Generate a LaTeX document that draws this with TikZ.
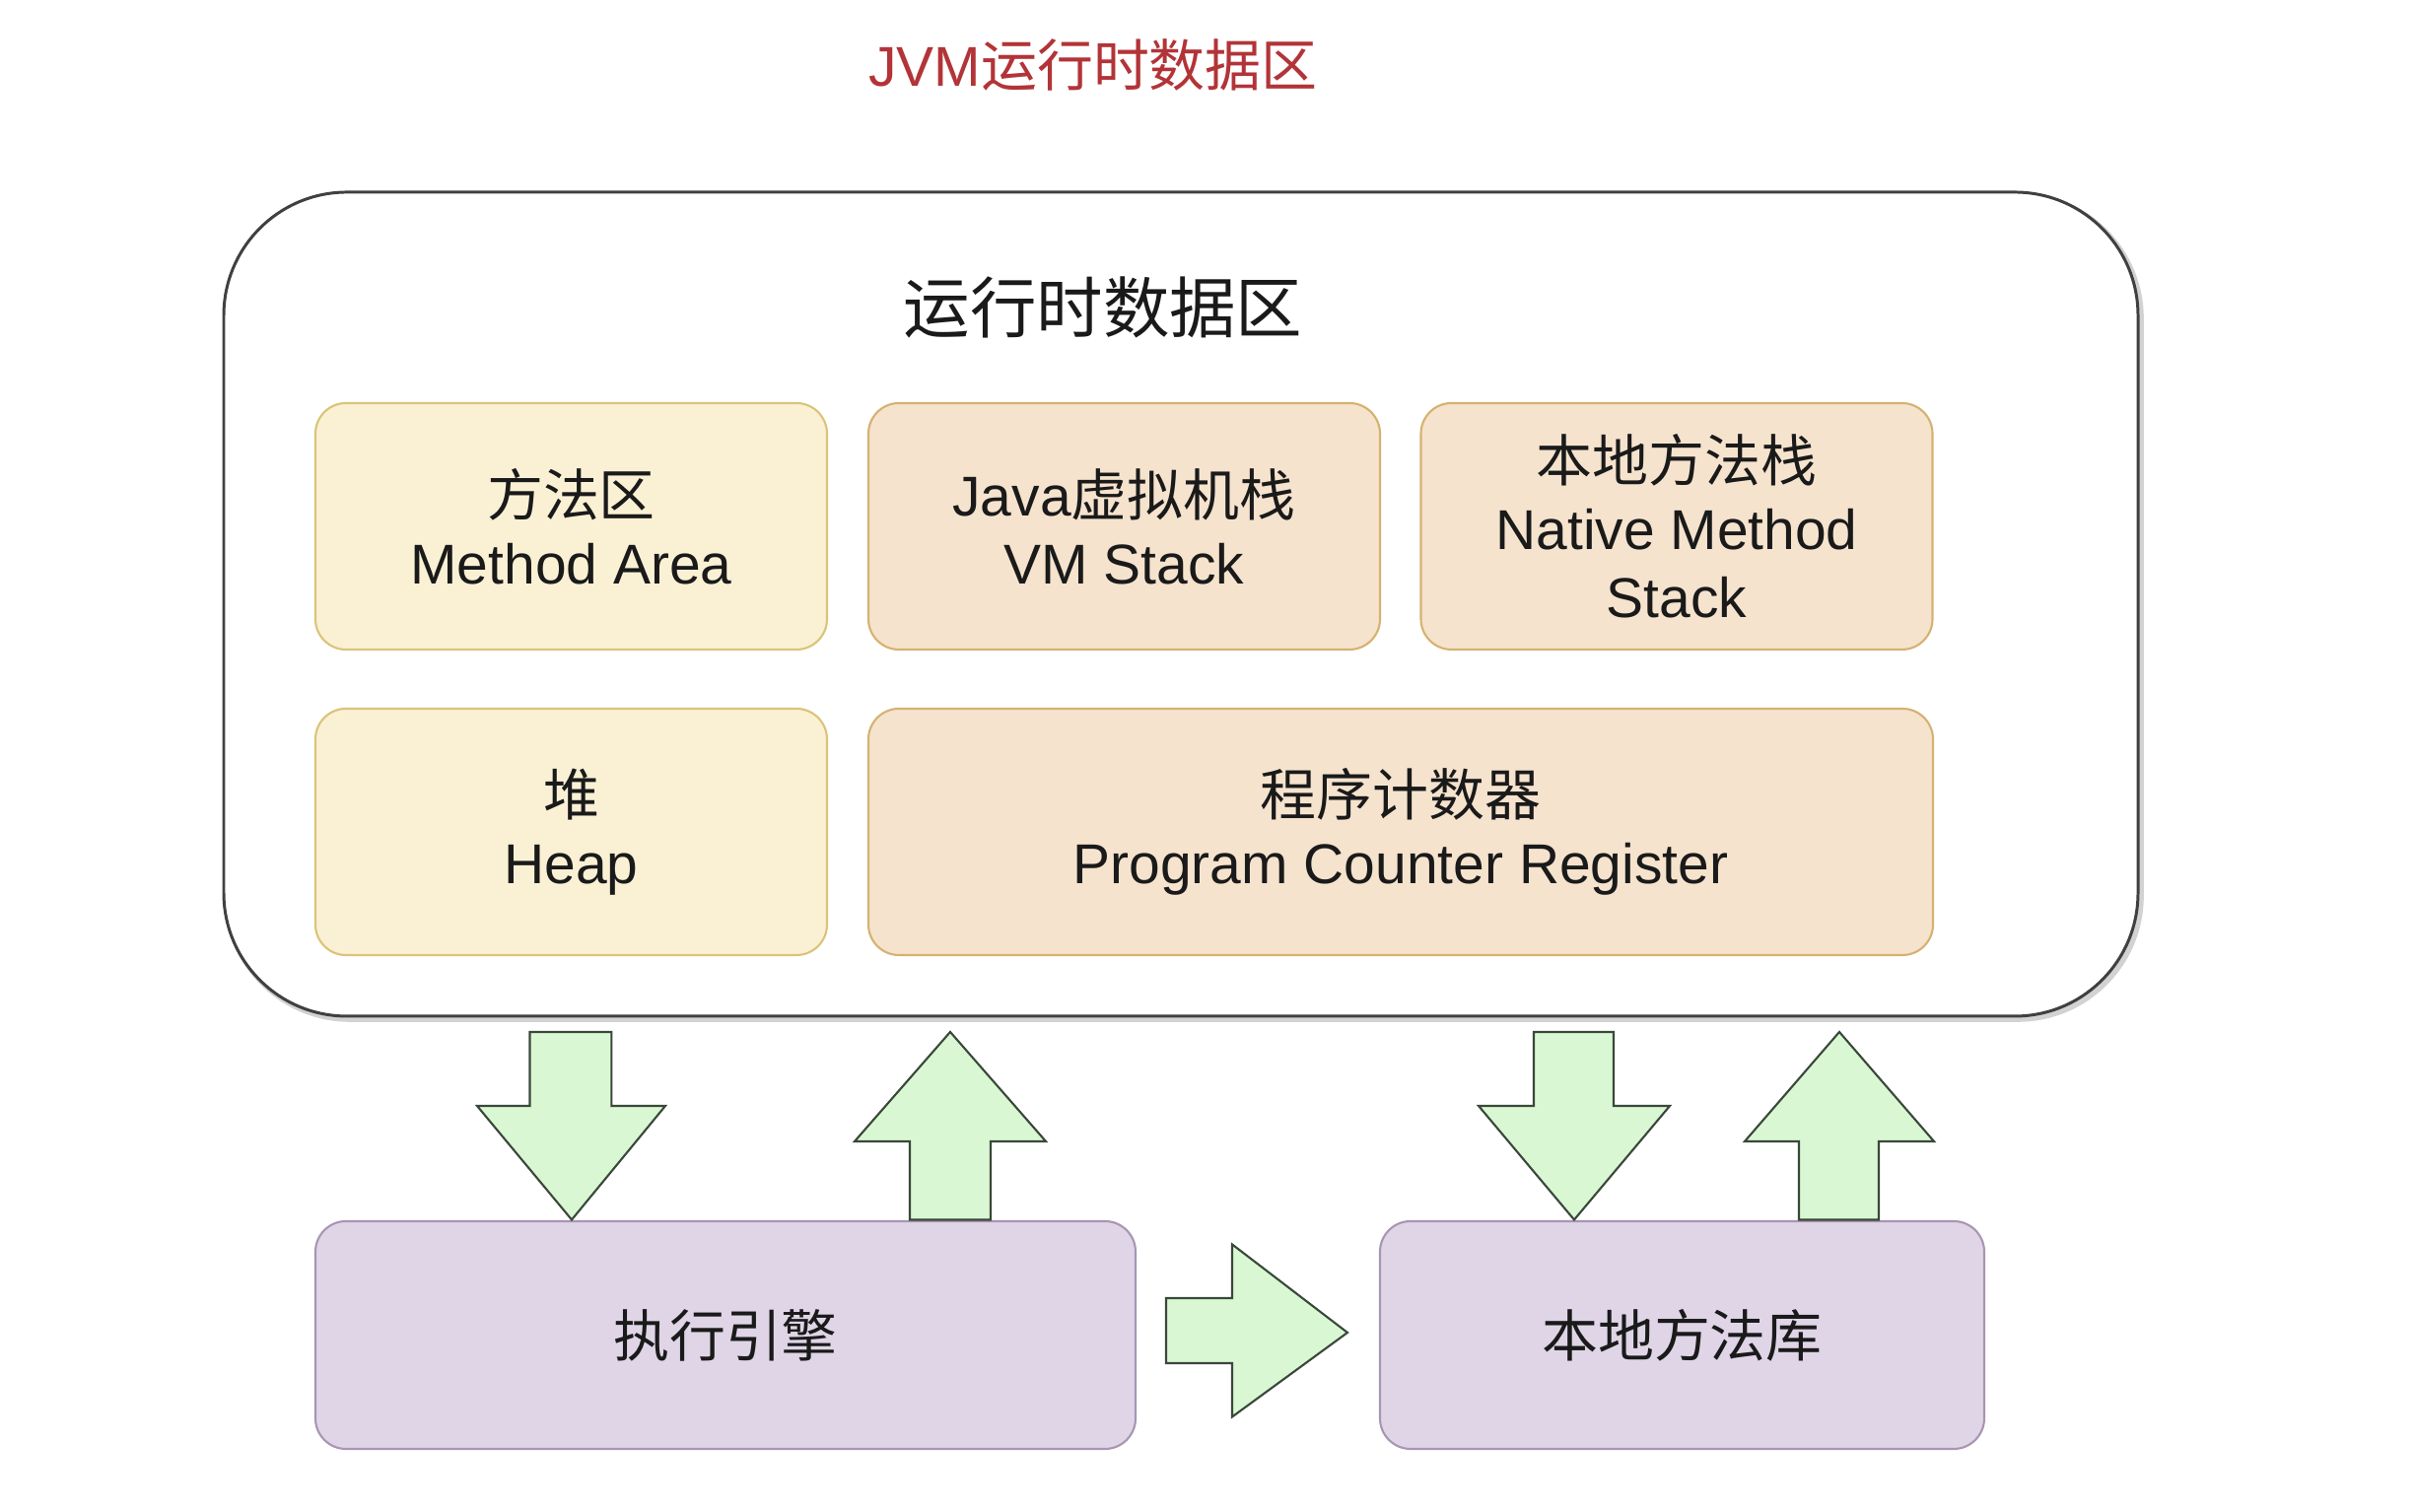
\documentclass[tikz,border=0pt]{standalone}
\usepackage{fontspec}
\setmainfont{Liberation Sans}
\newfontfamily\cjk{Noto Sans CJK SC}
\usepackage{tikz}
\usetikzlibrary{positioning}
\definecolor{titlered}{RGB}{178,52,56}
\definecolor{txt}{RGB}{26,26,26}
\definecolor{yfill}{RGB}{250,241,213}
\definecolor{ydraw}{RGB}{218,196,120}
\definecolor{ofill}{RGB}{245,227,206}
\definecolor{odraw}{RGB}{214,178,112}
\definecolor{pfill}{RGB}{223,213,231}
\definecolor{pdraw}{RGB}{168,150,178}
\definecolor{gfill}{RGB}{217,247,211}
\definecolor{gdraw}{RGB}{58,72,58}

\begin{document}
\begin{tikzpicture}[join=miter,
    every node/.style={text=txt,font=\fontsize{16.2}{19.6}\selectfont,align=center},
    area/.style={rounded corners=0.31cm,line width=0.6pt,minimum height=2.5cm,minimum width=5.19cm},
    yellowbox/.style={area,fill=yfill,draw=ydraw},
    orangebox/.style={area,fill=ofill,draw=odraw},
    purplebox/.style={area,fill=pfill,draw=pdraw,minimum height=2.31cm},
    bigarrow/.style={fill=gfill,draw=gdraw,line width=0.6pt}]
         \useasboundingbox (0,0) rectangle (24.5,15.34);
         \node[text=titlered] (title) at (11.09,14.68) {JVM{\cjk 运行时数据区}};
         % runtime data area with its shadow
         \draw[gray!35,line width=1.6pt,rounded corners=1.25cm] (2.30,13.36) rectangle (21.72,5.00);
         \draw[fill=white,draw=black!75,line width=0.85pt,rounded corners=1.25cm] (2.27,13.39) rectangle (21.69,5.03);
         \node[font=\fontsize{19.2}{23}\selectfont\cjk] (rda) at (11.19,12.22) {运行时数据区};
         \node[yellowbox] (method) at (5.795,10.0) {{\cjk 方法区}\\Method Area};
         \node[orangebox] (vmstack) at (11.405,10.0) {Java{\cjk 虚拟机栈}\\VM Stack};
         \node[orangebox] (native) at (17.01,10.0) {{\cjk 本地方法栈}\\Native Method\\Stack};
         \node[yellowbox] (heap) at (5.795,6.90) {{\cjk 堆}\\Heap};
         \node[orangebox,minimum width=10.8cm] (pc) at (14.21,6.90) {{\cjk 程序计数器}\\Program Counter Register};
         \node[purplebox,minimum width=8.32cm] (engine) at (7.36,1.795) {\cjk 执行引擎};
         \node[purplebox,minimum width=6.13cm] (nlib) at (17.065,1.795) {\cjk 本地方法库};
         % block arrows
         \filldraw[bigarrow](5.375,4.87)--(6.203,4.87)--(6.203,4.12)--(6.75,4.12)--(5.80,2.965)--(4.84,4.12)--(5.375,4.12)--cycle;
         \filldraw[bigarrow](9.23,2.965)--(10.05,2.965)--(10.05,3.76)--(10.61,3.76)--(9.64,4.87)--(8.67,3.76)--(9.23,3.76)--cycle;
         \filldraw[bigarrow](15.56,4.87)--(16.37,4.87)--(16.37,4.12)--(16.94,4.12)--(15.97,2.965)--(15.00,4.12)--(15.56,4.12)--cycle;
         \filldraw[bigarrow](18.25,2.965)--(19.06,2.965)--(19.06,3.76)--(19.62,3.76)--(18.66,4.87)--(17.70,3.76)--(18.25,3.76)--cycle;
         \filldraw[bigarrow](11.83,2.17)--(12.50,2.17)--(12.50,2.715)--(13.67,1.82)--(12.50,0.965)--(12.50,1.51)--(11.83,1.51)--cycle;
    \end{tikzpicture}
\end{document}
